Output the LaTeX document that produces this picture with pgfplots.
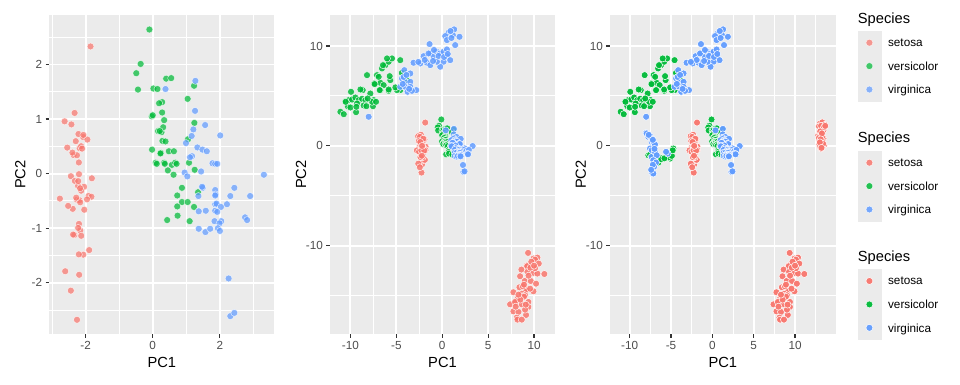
\documentclass[border=0pt]{standalone}
\usepackage{pgfplots}
\usepackage{pgfplotstable}
\pgfplotsset{compat=1.18}
\usepackage{fontspec}
\setmainfont{Liberation Sans}
\definecolor{setosa}{HTML}{F8766D}
\definecolor{versi}{HTML}{00BA38}
\definecolor{virg}{HTML}{619CFF}
\definecolor{panelbg}{HTML}{EBEBEB}
\definecolor{gthirty}{HTML}{4D4D4D}
\definecolor{gtwenty}{HTML}{333333}

% ---------- PCA scores ----------
\pgfplotstableread{
x y
-2.257 -0.478
-2.074 0.672
-2.356 0.341
-2.292 0.595
-2.382 -0.645
-2.069 -1.484
-2.436 -0.047
-2.225 -0.222
-2.327 1.112
-2.177 0.467
-2.159 -1.040
-2.319 -0.133
-2.211 0.726
-2.624 0.958
-2.191 -1.853
-2.255 -2.677
-2.200 -1.479
-2.183 -0.487
-1.893 -1.400
-2.335 -1.124
-1.908 -0.407
-2.197 -0.921
-2.765 -0.457
-1.813 -0.085
-2.220 -0.137
-1.946 0.624
-2.045 -0.241
-2.161 -0.525
-2.132 -0.312
-2.257 0.337
-2.132 0.503
-1.826 -0.423
-2.606 -1.788
-2.438 -2.143
-2.104 0.459
-2.200 0.205
-2.039 -0.661
-2.519 -0.591
-2.422 0.902
-2.163 -0.268
-2.279 -0.440
-1.852 2.330
-2.545 0.477
-1.957 -0.471
-2.129 -1.138
-2.066 0.709
-2.372 -1.116
-2.392 0.385
-2.221 -0.994
-2.196 -0.009
}\pcaSet
\pgfplotstableread{
x y
-0.10 2.64
-0.36 2.01
-0.49 1.84
-0.44 1.54
0.02 1.56
0.14 1.55
0.40 1.74
0.55 1.75
0.28 1.31
0.19 1.29
0.28 1.12
-0.03 1.05
0.00 1.07
0.34 0.98
0.16 0.78
0.26 0.76
0.31 0.85
0.21 0.78
0.29 0.60
0.38 0.59
-0.02 0.44
0.24 0.38
0.23 0.37
0.09 0.20
0.12 0.18
0.34 0.20
0.36 0.18
0.43 -0.85
1.23 1.61
1.04 1.37
1.24 0.93
1.05 0.63
0.48 0.41
0.63 0.41
0.57 0.16
0.67 0.20
0.71 0.18
0.45 0.06
0.62 -0.02
1.08 0.20
1.25 0.07
0.87 -0.26
1.35 -0.34
0.73 -0.40
0.87 -0.52
1.04 -0.52
0.73 -0.60
1.23 -0.61
0.74 -0.77
1.10 -0.87
}\pcaVer
\pgfplotstableread{
x y
0.38 1.55
1.27 1.70
1.26 1.15
1.56 0.89
2.01 0.70
1.21 0.81
1.16 0.69
0.99 0.56
1.33 0.48
1.48 0.44
1.61 0.41
1.17 0.32
1.11 0.30
1.78 0.19
1.86 0.18
1.92 0.18
1.44 0.04
0.95 0.02
1.03 -0.05
3.31 -0.02
1.49 -0.26
1.47 -0.24
2.43 -0.26
1.86 -0.30
1.87 -0.38
1.36 -0.41
1.86 -0.40
2.31 -0.41
2.90 -0.41
1.86 -0.56
1.90 -0.55
2.21 -0.56
2.03 -0.61
1.37 -0.69
1.58 -0.68
1.86 -0.68
1.92 -0.70
2.75 -0.80
2.81 -0.85
1.84 -0.87
2.04 -0.87
1.99 -0.91
1.37 -1.01
1.57 -1.07
1.71 -1.01
1.94 -1.00
2.00 -1.05
2.26 -1.92
2.31 -2.61
2.43 -2.55
}\pcaVir

% ---------- second embedding ----------
\pgfplotstableread{
x y
9.35 -10.72
9.93 -11.29
10.36 -11.19
10.11 -11.39
9.20 -11.99
9.25 -12.05
10.51 -11.79
8.62 -12.39
9.28 -12.62
9.93 -12.72
10.36 -12.79
10.11 -12.25
11.12 -12.83
8.48 -13.06
8.99 -13.53
9.64 -13.53
10.22 -13.80
8.41 -14.16
9.20 -14.33
9.13 -14.46
9.93 -14.56
7.75 -14.66
8.66 -14.80
9.02 -14.96
8.19 -15.30
9.38 -15.63
7.93 -15.73
7.39 -15.87
8.66 -15.87
9.38 -16.13
7.75 -16.57
8.30 -16.63
9.13 -16.93
8.12 -17.20
8.19 -17.40
8.66 -17.40
9.02 -16.40
9.57 -14.30
8.77 -14.06
7.93 -15.63
8.90 -15.10
9.60 -12.20
8.50 -15.40
8.00 -16.10
9.70 -11.60
8.90 -13.90
9.40 -13.00
8.30 -14.90
9.10 -15.90
10.00 -12.00
}\tsSet
\pgfplotstableread{
x y
-11.09 3.41
-10.72 3.17
-10.54 4.44
-10.29 3.97
-9.93 5.41
-10.18 4.58
-9.82 4.64
-9.46 4.84
-9.09 4.58
-8.73 4.71
-8.37 4.58
-7.83 5.24
-7.46 4.58
-7.54 3.97
-8.55 4.04
-9.28 4.24
-9.38 3.37
-10.00 3.84
-8.66 5.58
-8.19 7.08
-7.10 7.08
-7.39 6.25
-6.74 6.31
-6.38 6.08
-5.83 5.51
-6.74 5.58
-5.65 6.58
-6.56 7.75
-6.20 8.08
-5.83 8.42
-5.47 8.75
-6.01 8.75
-4.57 8.58
-4.57 5.58
-4.93 5.58
-10.51 4.41
-8.26 3.97
-9.35 3.91
-8.91 5.64
-7.36 6.18
-6.92 6.91
-6.45 8.08
-5.72 6.98
-6.81 5.58
-5.83 5.64
-3.84 6.58
-4.13 7.31
-4.40 7.30
-5.10 5.85
-7.64 4.41
-7.21 4.41
-8.12 4.74
}\tsVer
\pgfplotstableread{
x y
1.30 11.66
0.69 11.32
0.33 10.99
1.16 11.09
1.88 10.92
0.51 10.59
1.41 10.09
-1.38 10.19
-3.12 8.32
-2.39 8.25
-2.03 8.98
-1.67 8.32
-1.30 9.25
-0.94 8.92
-0.65 9.45
-0.22 9.25
0.14 9.42
0.51 9.65
0.51 8.98
0.87 8.58
0.14 8.42
-0.22 7.92
-0.58 8.42
-1.30 8.08
-1.49 9.25
-4.13 7.58
-3.48 7.25
-4.38 6.75
-4.02 6.41
-3.48 6.41
-4.57 5.91
-4.02 5.91
-3.48 5.91
-3.77 5.41
-2.83 5.58
-3.30 5.51
-8.01 2.91
0.90 11.50
1.00 10.80
-0.40 9.00
-1.00 8.50
0.20 8.90
-1.90 8.60
-0.90 9.60
0.60 9.20
-4.20 6.90
-3.90 7.10
-4.30 6.20
-3.60 5.70
-2.60 8.40
}\tsVir

% ---------- third embedding ----------
\pgfplotstableread{
x y
13.02 2.24
13.43 2.14
13.23 1.90
13.10 1.57
13.35 1.40
12.82 1.07
13.02 0.90
13.43 0.73
12.94 0.57
13.23 0.23
13.51 0.07
13.02 -0.10
13.15 -0.27
13.30 2.35
13.60 2.10
12.90 1.95
13.20 1.75
13.45 1.60
13.00 1.30
13.20 1.15
12.90 0.80
13.30 0.95
13.10 0.45
13.35 0.40
12.95 0.15
13.30 -0.05
13.15 2.00
13.50 1.85
13.05 1.45
13.25 1.25
13.10 0.65
13.40 0.20
13.00 0.35
13.20 -0.20
13.65 2.00
}\umSet
\pgfplotstableread{
x y
-7.74 -0.94
-7.34 -1.10
-6.41 -1.27
-6.33 -1.44
-6.13 -1.20
-5.52 -1.10
-5.12 -1.27
-4.92 -0.67
-4.72 -0.27
-5.04 -0.67
-5.32 -0.77
-6.53 -1.67
-7.54 -0.87
-5.30 -1.15
-4.90 -1.00
-6.20 -1.35
-5.80 -1.25
-4.80 -0.45
}\umVer
\pgfplotstableread{
x y
-8.02 1.30
-7.74 0.90
-7.34 0.40
-6.94 0.17
-7.54 -0.27
-7.34 -1.10
-6.94 -1.60
-7.14 -2.10
-7.22 -2.77
-7.94 1.24
-7.54 1.00
-7.34 0.73
-7.14 0.40
-6.94 0.13
-7.34 -0.43
-6.94 -0.60
-6.73 -0.94
-7.14 -1.44
-6.81 -1.67
-7.06 -2.10
-7.34 -2.61
-7.14 -2.77
-5.40 -0.77
-5.60 -0.60
-7.70 1.10
-7.20 0.60
-7.00 -0.30
-7.20 -1.90
-7.40 -2.40
}\umVir

\pgfplotsset{
  gg/.style={
    scale only axis, width=225pt, height=319.3pt, anchor=south west,
    axis background/.style={fill=panelbg},
    axis x line*=bottom, axis y line*=left, axis line style={draw=none},
    tick align=outside, major tick length=3.65pt, minor tick length=0pt,
    tick style={gtwenty, line width=1.2pt},
    grid=both,
    major grid style={white, line width=1.89pt},
    minor grid style={white, line width=0.94pt},
    ticklabel style={font=\fontsize{11.73}{13}\selectfont, text=gthirty},
    xlabel={PC1}, ylabel={PC2},
    every axis x label/.style={at={(axis description cs:0.5,-0.0868)}, anchor=center,
      font=\fontsize{14.67}{17}\selectfont},
    every axis y label/.style={at={(axis description cs:-0.1289,0.5)}, anchor=center, rotate=90,
      font=\fontsize{14.67}{17}\selectfont},
    legend cell align=left,
    legend image code/.code={
      \fill[panelbg, opacity=1] (-11.5pt,-11.5pt) rectangle (11.5pt,11.5pt);
      \path (18.5pt,0pt);
      \draw[##1] plot coordinates {(0pt,0pt)};
    },
  },
  lg/.style={legend style={at={(#1)}, anchor=north west, draw=none, fill=none,
    inner sep=0pt, outer sep=0pt, row sep=0pt,
    nodes={inner sep=0pt, minimum height=23pt, text depth=0pt, anchor=west,
      font=\fontsize{11.73}{13}\selectfont}}},
  pt/.style 2 args={only marks, mark=*, mark size=3.5pt,
    mark options={fill=#1, draw=white, line width=0.55pt, fill opacity=#2, draw opacity=#2}},
}

\begin{document}
\begin{tikzpicture}
\useasboundingbox (0pt,-384pt) rectangle (960pt,0pt);

% ---------- Panel 1 ----------
\begin{axis}[gg, at={(49.3pt,-334.3pt)},
  xmin=-3.08, xmax=3.62, ymin=-2.943, ymax=2.906,
  xtick={-2,0,2}, xticklabels={-2,0,2}, minor xtick={-3,-1,1,3},
  ytick={-2,-1,0,1,2}, yticklabels={-2,-1,0,1,2}, minor ytick={-2.5,-1.5,-0.5,0.5,1.5,2.5},
  lg={3.5929,0.9499}]
\addplot[pt={setosa}{0.72}] table {\pcaSet}; \addlegendentry{setosa}
\addplot[pt={versi}{0.72}] table {\pcaVer}; \addlegendentry{versicolor}
\addplot[pt={virg}{0.72}] table {\pcaVir}; \addlegendentry{virginica}
\end{axis}

% ---------- Panel 2 ----------
\begin{axis}[gg, at={(330pt,-334.3pt)},
  xmin=-12.22, xmax=12.28, ymin=-18.87, ymax=13.10,
  xtick={-10,-5,0,5,10}, xticklabels={-10,-5,0,5,10}, minor xtick={-7.5,-2.5,2.5,7.5},
  ytick={-10,0,10}, yticklabels={-10,0,10}, minor ytick={-15,-5,5},
  lg={2.3453,0.5741}]
\addplot[pt={setosa}{0.85}] table {\pcaSet}; \addlegendentry{setosa}
\addplot[pt={setosa}{0.85}, forget plot] table {\tsSet};
\addplot[pt={versi}{0.85}] table {\pcaVer}; \addlegendentry{versicolor}
\addplot[pt={versi}{0.85}, forget plot] table {\tsVer};
\addplot[pt={virg}{0.85}] table {\pcaVir}; \addlegendentry{virginica}
\addplot[pt={virg}{0.85}, forget plot] table {\tsVir};
\end{axis}

% ---------- Panel 3 ----------
\begin{axis}[gg, at={(610pt,-334.3pt)}, width=225.7pt,
  xmin=-12.38, xmax=14.92, ymin=-18.87, ymax=13.10,
  xtick={-10,-5,0,5,10}, xticklabels={-10,-5,0,5,10}, minor xtick={-7.5,-2.5,2.5,7.5,12.5},
  ytick={-10,0,10}, yticklabels={-10,0,10}, minor ytick={-15,-5,5},
  lg={1.0975,0.2036}]
\addplot[pt={setosa}{0.95}] table {\pcaSet}; \addlegendentry{setosa}
\addplot[pt={setosa}{0.95}, forget plot] table {\tsSet};
\addplot[pt={setosa}{0.95}, forget plot] table {\umSet};
\addplot[pt={versi}{0.95}] table {\pcaVer}; \addlegendentry{versicolor}
\addplot[pt={versi}{0.95}, forget plot] table {\tsVer};
\addplot[pt={versi}{0.95}, forget plot] table {\umVer};
\addplot[pt={virg}{0.95}] table {\pcaVir}; \addlegendentry{virginica}
\addplot[pt={virg}{0.95}, forget plot] table {\tsVir};
\addplot[pt={virg}{0.95}, forget plot] table {\umVir};
\end{axis}

% ---------- legend titles ----------
\node[anchor=base west, inner sep=0pt, font=\fontsize{14.67}{17}\selectfont] at (857.7pt,-23.3pt) {Species};
\node[anchor=base west, inner sep=0pt, font=\fontsize{14.67}{17}\selectfont] at (857.7pt,-142.7pt) {Species};
\node[anchor=base west, inner sep=0pt, font=\fontsize{14.67}{17}\selectfont] at (857.7pt,-261.7pt) {Species};
\end{tikzpicture}
\end{document}
